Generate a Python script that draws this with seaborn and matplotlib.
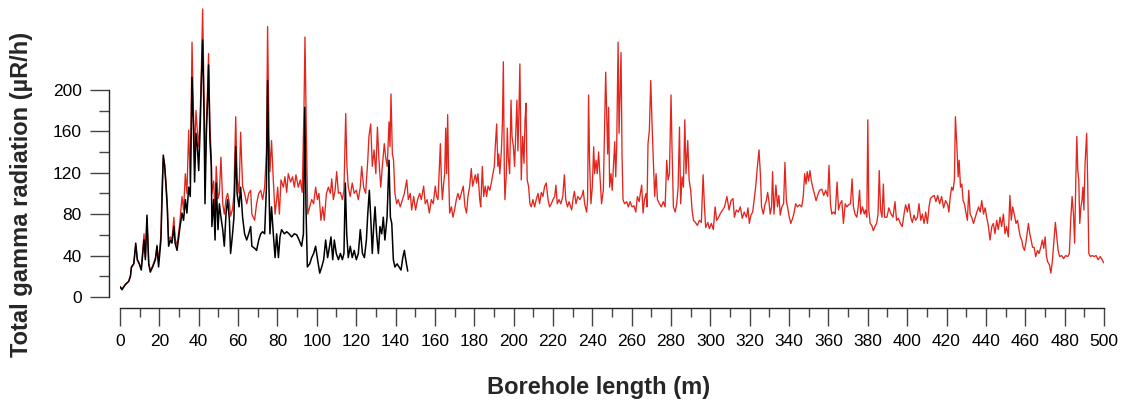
import matplotlib
matplotlib.use("Agg")
import matplotlib.pyplot as plt
from matplotlib.ticker import MultipleLocator
import seaborn as sns

# Gamma log: depth (m) and total gamma radiation (µR/h)
red_depth = [
    0, 1, 2.7, 4.4, 5.3, 5.8, 7, 8, 8.8, 9.8, 10.8, 12.2, 12.9, 13.7, 14.6, 15.4, 16.6, 18, 18.8, 19.6,
    20.8, 21.3, 22, 22.7, 23.4, 24, 24.7, 25.6, 26.4, 27.4, 28, 29, 30.3, 31.5, 32.3, 33.2, 34, 34.9, 35.7, 36.6,
    37.3, 37.9, 38.6, 39.3, 40, 40.8, 41.3, 42, 42.7, 43.2, 43.9, 44.5, 45, 45.7, 46.4, 46.7, 47.6, 48.3, 48.9, 49.8,
    50.5, 51.3, 52.2, 53, 53.9, 54.7, 55.6, 56.2, 57.2, 57.9, 58.8, 59.5, 60.5, 61.3, 62.3, 63.3, 64.4, 65.4, 66.4, 67,
    68.4, 69.4, 70.5, 71.5, 72.5, 73.5, 74.4,
    75.0, 75.7, 76.2, 77, 77.9, 78.8, 79.6, 80.1, 81, 81.8, 83, 83.8, 84.7, 85.5, 86.7, 87.7, 88.6, 89.4, 90.6, 91.6,
    92.6, 93.5, 94, 94.7, 95.4, 96.4, 97.4, 98.4, 99.4, 100.3, 101.1, 102.1, 103, 103.8, 104.9, 105.9, 106.9, 107.6, 108.4, 109.3,
    110.1, 111, 112, 113, 113.8, 114.7, 115.3, 116, 117, 118, 119, 120.1, 121.1, 122.1, 122.8, 123.8, 124.8, 125.9, 126.5, 127.4,
    128.2, 129.1, 130, 130.8, 131.6, 132.5, 133.3, 134.3, 135, 135.8, 136.7, 137.2, 137.7, 138.4, 139, 139.7, 140.6, 141.4, 142.4, 143.5,
    144.5, 145.7, 146.5, 147.5, 148.2, 149.2, 150.2, 151.2,
    152.3, 153.1, 154.3, 155.1, 156.1, 157.2, 158.2, 159.2, 160.2, 160.9, 161.6, 162.3, 162.8, 163.3, 163.8, 164.5, 165, 165.5, 166, 166.5,
    167, 167.5, 168.4, 169.2, 170, 170.9, 171.7, 172.6, 173.4, 174.4, 175.3, 176.1, 176.8, 177.7, 178.5, 179.2, 179.9, 180.6, 181.2, 181.9,
    182.8, 183.3, 184.1, 184.8, 185.6, 186.3, 187, 187.9, 188.7, 189.5, 190.2, 190.7, 191.4, 192, 192.5, 193, 193.8, 194.3, 194.8, 195.3,
    195.6, 196.3, 196.8, 197.3, 198, 198.7, 199.2, 199.9, 200.5, 201.2, 201.7, 202.2, 202.7, 203.2, 203.9, 204.6, 205.3, 205.8, 206.3, 206.9,
    207.6, 208.3, 209, 209.8, 210.7, 211.5, 212.4, 213.2, 214.1, 214.9, 215.8, 216.6, 217.5, 218.3, 219.2, 220, 220.9, 221.5, 222.2, 223.1,
    224, 225, 225.8, 226.5, 227.4, 228.2,
    229.5, 230.4, 230.9, 231.7, 232.6, 233.7, 234.8, 235.4, 236.1, 237.1, 237.6, 238.1, 238.6, 239.3, 240, 240.7, 241.2, 241.9, 242.5, 243.2,
    243.9, 244.7, 245.6, 246.3, 246.8, 247.3, 247.8, 248.3, 248.8, 249.5, 250.1, 250.7, 251.4, 251.9, 252.4, 253.1, 253.6, 254.1, 254.6, 255.1,
    255.6, 256.4, 257.5, 258.3, 259.2, 260.2, 261.2, 262.1, 262.9, 263.8, 264.4, 265.1, 265.8, 266.5, 267.3, 267.8, 268.3, 269, 269.7, 270.3,
    271, 271.7, 272.4, 273.1, 274.1, 275.1, 276.1, 277, 277.8, 278.5, 279.2, 280, 280.5, 281.2, 282.1, 282.9, 283.6, 284.3, 284.9, 285.6,
    286.3, 287, 287.6, 288.5, 289.2, 290, 290.7, 291.4, 292.4, 293.4, 294.4, 295.4, 296.3, 297, 297.6, 298.7, 299.5, 300.5, 301.5, 302.4,
    303.2, 304.2, 305.2, 306.2, 307.2,
    308.4, 309.5, 310.5, 311.5, 312.2, 313.2, 314.2, 315.2, 316.2, 317.2, 318.3, 319.1, 319.8, 320.6, 321.5, 322.2, 323, 323.8, 324.7, 325.4,
    326, 326.9, 327.7, 328.4, 329.1, 329.7, 330.4, 331.1, 331.6, 332.3, 333.3, 334.1, 334.8, 335.5, 336.3, 337.2, 337.9, 338.6, 339.2, 340.1,
    340.9, 341.8, 342.6, 343.3, 344.3, 345.3, 346.4, 347.2, 347.9, 348.6, 349.2, 349.9, 350.6, 351.3, 352, 352.8, 353.7, 354.5, 355.5, 356.6,
    357.6, 358.6, 359.6, 360.3, 361, 361.7, 362.5, 363.4, 364.4, 365.1, 365.9, 366.8, 367.6, 368.5, 369.3, 370.2, 371.2, 372, 372.7, 373.5,
    374.4, 375.1, 375.8, 376.4, 377.3, 378.2, 378.8, 379.5, 380, 380.5, 381.2, 382, 382.8, 383.6, 384.5, 385.2, 385.8, 386.5, 387.2, 387.9,
    388.5,
    389.7, 390.7, 391.8, 392.8, 393.8, 394.6, 395.5, 396.5, 397.5, 398.4, 399.2, 400.1, 400.9, 401.8, 402.6, 403.5, 404.3, 405.2, 406, 406.9,
    407.7, 408.6, 409.4, 410.3, 411.1, 411.8, 412.8, 413.8, 414.6, 415.5, 416.5, 417.5, 418.5, 419.5, 420.6, 421.2, 421.9, 422.6, 423.3, 424,
    424.5, 425.2, 425.9, 426.4, 427.1, 427.8, 428.4, 429.1, 429.8, 430.6, 431.3, 432, 432.8, 433.7, 434.6, 435.4, 436.3, 437.1, 437.9, 438.8,
    439.6, 440.4, 441.3, 442.1, 443, 443.8, 444.6, 445.5, 446.3, 447.2, 448, 448.9, 449.7, 450.5, 451.4, 452.2, 452.9, 453.6, 454.4, 455.3,
    456.1, 456.8, 457.5, 458.2, 458.9, 459.6, 460.3, 460.9, 461.6, 462.3, 463, 463.7, 464.5, 465.3, 466.2, 467, 467.9, 468.7, 469.4, 470.1,
    470.8, 471.4, 472.3, 473, 473.7, 474.3, 474.8, 475.3, 476, 476.7, 477.5, 478.5, 479.5, 480.5, 481.6, 482.4, 483.1, 483.8, 484.5, 485.1,
    485.7, 486.2, 486.7, 487.2, 487.7, 488.3, 488.8, 489.3, 489.8, 490.4, 490.9, 491.2, 491.7, 492.3, 493.1, 494, 495, 496, 497, 498.1,
    499.1, 499.8,
]
red_gamma = [
    10, 8, 12, 15, 20, 28, 32, 50, 36, 32, 27, 61, 38, 76, 32, 26, 30, 38, 50, 34,
    60, 103, 135, 128, 110, 92, 55, 58, 55, 77, 56, 50, 70, 97, 84, 119, 100, 161, 110, 246,
    180, 140, 180, 160, 145, 180, 215, 278, 195, 120, 170, 200, 235, 165, 135, 100, 112, 80, 126, 95,
    100, 135, 90, 80, 95, 100, 90, 78, 85, 100, 174, 115, 100, 159, 107, 100, 90, 100, 103, 80,
    74, 90, 100, 103, 94, 106, 140,
    261, 158, 121, 151, 113, 80, 94, 106, 80, 113, 106, 116, 101, 119, 111, 116, 106, 118, 106, 113,
    101, 183, 251, 158, 80, 87, 94, 90, 106, 94, 100, 74, 87, 74, 100, 106, 100, 114, 94, 103,
    121, 100, 101, 94, 103, 177, 126, 106, 97, 110, 100, 103, 94, 106, 126, 106, 100, 132, 155, 167,
    126, 142, 119, 164, 132, 106, 126, 148, 135, 126, 169, 145, 196, 138, 132, 100, 90, 94, 87, 94,
    100, 113, 94, 100, 84, 97, 84, 94,
    100, 94, 107, 90, 94, 81, 94, 90, 107, 97, 94, 126, 148, 113, 94, 110, 119, 163, 119, 176,
    119, 81, 87, 77, 84, 94, 100, 94, 100, 107, 87, 81, 97, 107, 124, 107, 113, 118, 110, 119,
    94, 87, 126, 97, 107, 97, 107, 103, 110, 119, 126, 145, 167, 126, 138, 119, 141, 167, 227, 119,
    94, 119, 163, 135, 119, 190, 155, 145, 126, 164, 190, 141, 177, 225, 113, 155, 129, 170, 187, 113,
    107, 90, 87, 94, 87, 94, 100, 90, 101, 97, 107, 110, 94, 87, 90, 94, 97, 108, 90, 94,
    90, 97, 118, 94, 87, 92,
    84, 97, 102, 90, 97, 94, 98, 103, 90, 82, 94, 195, 132, 90, 106, 145, 119, 132, 119, 140,
    116, 90, 103, 171, 217, 177, 138, 183, 106, 119, 103, 125, 150, 116, 145, 246, 158, 196, 236, 138,
    94, 90, 92, 87, 92, 87, 88, 82, 97, 92, 100, 108, 81, 94, 100, 87, 148, 161, 209, 171,
    132, 97, 119, 94, 90, 87, 92, 87, 132, 113, 119, 195, 145, 87, 82, 90, 106, 164, 90, 116,
    106, 171, 119, 151, 113, 103, 84, 74, 72, 69, 74, 72, 118, 87, 67, 72, 66, 71, 65, 87,
    74, 77, 81, 84, 87,
    97, 84, 93, 95, 77, 84, 82, 87, 76, 82, 77, 86, 71, 79, 82, 93, 106, 124, 142, 119,
    87, 80, 89, 93, 101, 93, 80, 87, 121, 80, 108, 87, 98, 79, 87, 90, 130, 93, 87, 77,
    71, 76, 82, 90, 87, 89, 87, 97, 119, 109, 121, 112, 122, 112, 106, 100, 93, 98, 103, 104,
    98, 103, 97, 127, 90, 80, 82, 80, 111, 84, 90, 93, 71, 90, 87, 89, 90, 114, 87, 80,
    77, 87, 103, 80, 87, 80, 84, 77, 171, 84, 71, 69, 64, 68, 71, 80, 122, 84, 77, 109,
    77,
    77, 86, 80, 77, 92, 74, 76, 71, 68, 80, 89, 82, 90, 77, 72, 79, 74, 77, 90, 74,
    80, 71, 82, 71, 87, 95, 97, 98, 92, 98, 90, 97, 86, 93, 89, 82, 97, 106, 103, 113,
    174, 148, 116, 132, 106, 109, 93, 90, 82, 74, 103, 80, 77, 71, 77, 82, 87, 82, 93, 80,
    86, 77, 68, 55, 68, 71, 61, 74, 65, 77, 68, 80, 61, 68, 58, 98, 74, 87, 80, 71,
    74, 65, 58, 55, 48, 45, 52, 61, 71, 61, 55, 48, 48, 39, 45, 42, 48, 55, 47, 58,
    39, 34, 31, 23, 33, 48, 61, 72, 58, 45, 39, 40, 37, 40, 39, 42, 74, 97, 80, 52,
    113, 155, 122, 113, 71, 87, 93, 106, 84, 129, 148, 158, 113, 42, 39, 40, 39, 40, 36, 39,
    36, 33,
]

black_depth = [
    0, 1, 2.7, 4.4, 5.3, 5.8, 7, 8, 8.8, 9.8, 10.8, 12.2, 12.9, 13.7, 14.6, 15.4, 16.6, 18, 18.8, 19.6,
    20.8, 21.3, 22, 22.7, 23.4, 24, 24.7, 25.6, 26.4, 27.4, 28, 29, 30.3, 31.5, 32.3, 33.2, 34, 34.9, 35.7, 36.6,
    37.3, 37.9, 38.6, 39.3, 40, 40.8, 41.3, 42, 42.7, 43.2, 43.9, 44.5, 45, 45.7, 46.4, 46.7, 47.6, 48.3, 48.9, 49.8,
    50.5, 51.3, 52.2, 53, 53.9, 54.7, 55.6, 56.2, 57.2, 57.9, 58.8, 59.5, 60.5, 61.3, 62.3, 63.3, 64.4, 65.4, 66.4, 67,
    68.4, 69.4, 70.5, 71.5, 72.5, 73.5, 74.4, 75, 75.7, 76.2, 77, 77.9, 78.8, 79.6, 80.5, 81.3, 82.1, 83.5, 84.7, 85.9,
    87.2, 88.6, 89.8, 91, 92.3, 93.2, 93.9, 94.5, 95.2, 96.4, 97.4, 98.4, 99.4, 100.4, 101.5, 102.5, 103.5, 104.5, 105.5, 106.5,
    107.2, 108.1, 108.9, 109.9, 111, 112, 113, 113.8, 114.5, 115.2, 116, 117, 118, 119, 120.1, 121.1, 122.1, 123.2, 124.2, 125.2,
    125.9, 126.7, 127.4, 128.2, 128.9, 129.6, 130.4, 131.3, 132.1, 133, 133.8, 134.6, 135.7, 136.7, 137.4, 138.1, 138.9, 139.7, 140.8, 141.8,
    142.8, 143.7, 144.5, 145.2, 146.2,
]
black_gamma = [
    10, 7, 12, 15, 20, 29, 32, 52, 36, 32, 26, 55, 36, 79, 32, 24, 29, 36, 49, 29,
    55, 90, 137, 126, 106, 87, 49, 55, 52, 68, 52, 45, 65, 81, 74, 94, 81, 106, 97, 212,
    164, 111, 158, 145, 122, 167, 206, 248, 174, 90, 158, 190, 224, 151, 126, 68, 94, 55, 110, 65,
    90, 77, 65, 49, 81, 94, 74, 42, 61, 77, 145, 100, 87, 106, 77, 61, 55, 61, 68, 49,
    47, 45, 55, 61, 63, 61, 106, 209, 106, 61, 87, 61, 38, 61, 38, 58, 65, 61, 63, 61,
    58, 61, 60, 55, 49, 61, 183, 87, 29, 32, 38, 42, 49, 36, 23, 29, 36, 55, 38, 49,
    58, 36, 55, 42, 36, 42, 36, 42, 110, 61, 38, 49, 38, 45, 36, 42, 65, 42, 38, 55,
    80, 103, 77, 42, 68, 87, 61, 42, 68, 61, 77, 55, 77, 132, 77, 71, 36, 29, 32, 29,
    26, 38, 45, 36, 25,
]

sns.set_theme(style="ticks")
plt.rcParams["font.family"] = ["Liberation Sans", "DejaVu Sans"]

fig = plt.figure(figsize=(11.31, 4.05), dpi=100)
ax = fig.add_axes([0.1061, 0.2667, 0.87, 0.729])

sns.lineplot(x=red_depth, y=red_gamma, color="#e3261d", lw=0.95, estimator=None, ax=ax)
sns.lineplot(x=black_depth, y=black_gamma, color="black", lw=1.1, estimator=None, ax=ax)

ax.set_xlim(0, 500)
ax.set_ylim(0, 285)
ax.xaxis.set_major_locator(MultipleLocator(20))
ax.xaxis.set_minor_locator(MultipleLocator(10))
ax.set_yticks([0, 40, 80, 120, 160, 200])
ax.set_yticks([20, 60, 100, 140, 180], minor=True)

# detached axis lines, y line stops at 200
sns.despine(ax=ax, offset={"left": 7.7, "bottom": 7.6})
ax.spines["left"].set_bounds(0, 200)
ax.spines["bottom"].set_bounds(0, 500)
for s in ("left", "bottom"):
    ax.spines[s].set_linewidth(1.0)
    ax.spines[s].set_color("#222222")

ax.tick_params(axis="both", which="both", direction="out", color="#444444", width=1.0,
               labelsize=12.5, labelcolor="black")
ax.tick_params(axis="y", which="major", length=13.7, pad=6)
ax.tick_params(axis="y", which="minor", length=7)
ax.tick_params(axis="x", which="major", length=13.2, pad=5.5)
ax.tick_params(axis="x", which="minor", length=6.8)

ax.set_xlabel("Borehole length (m)", fontsize=17, fontweight="bold")
ax.set_ylabel("Total gamma radiation (µR/h)", fontsize=17, fontweight="bold")
ax.xaxis.label.set_va("center")
ax.yaxis.label.set_va("center")
ax.xaxis.set_label_coords(0.486, -0.308)
ax.yaxis.set_label_coords(-0.0996, 0.349)

fig.savefig("out.png", dpi=100)
